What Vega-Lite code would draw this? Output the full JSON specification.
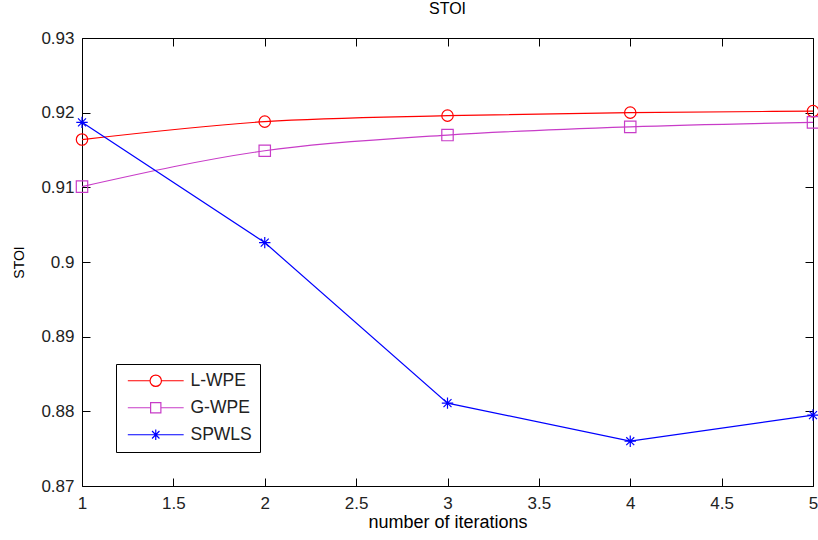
{
  "$schema": "https://vega.github.io/schema/vega-lite/v6.json",
  "width": 731,
  "height": 448,
  "autosize": {"type": "none"},
  "padding": {"left": 82, "top": 38, "right": 5, "bottom": 54},
  "background": "white",
  "title": {"text": "STOI", "font": "Liberation Sans", "fontSize": 16, "fontWeight": "normal", "color": "#000000", "offset": 12, "anchor": "middle"},
  "config": {
    "view": {"stroke": "#000000", "strokeWidth": 1},
    "font": "Liberation Sans",
    "axis": {"grid": false, "domainColor": "#000000", "tickColor": "#000000", "labelColor": "#222222", "titleColor": "#000000", "labelFont": "Liberation Sans", "titleFont": "Liberation Sans", "labelFontSize": 17, "titleFontWeight": "normal", "labelFlush": false}
  },
  "data": {
    "values": [
      {"series": "L-WPE", "iter": 1, "stoi": 0.9164},
      {"series": "L-WPE", "iter": 2, "stoi": 0.9188},
      {"series": "L-WPE", "iter": 3, "stoi": 0.9196},
      {"series": "L-WPE", "iter": 4, "stoi": 0.9200},
      {"series": "L-WPE", "iter": 5, "stoi": 0.9202},
      {"series": "G-WPE", "iter": 1, "stoi": 0.9101},
      {"series": "G-WPE", "iter": 2, "stoi": 0.9149},
      {"series": "G-WPE", "iter": 3, "stoi": 0.9170},
      {"series": "G-WPE", "iter": 4, "stoi": 0.9181},
      {"series": "G-WPE", "iter": 5, "stoi": 0.9187},
      {"series": "SPWLS", "iter": 1, "stoi": 0.9187},
      {"series": "SPWLS", "iter": 2, "stoi": 0.9026},
      {"series": "SPWLS", "iter": 3, "stoi": 0.8811},
      {"series": "SPWLS", "iter": 4, "stoi": 0.8760},
      {"series": "SPWLS", "iter": 5, "stoi": 0.8795}
    ]
  },
  "resolve": {"axis": {"x": "independent", "y": "independent"}, "scale": {"shape": "independent"}},
  "layer": [
    {
      "layer": [
        {
          "transform": [{"filter": "datum.series !== 'SPWLS'"}],
          "mark": {"type": "line", "interpolate": "monotone", "strokeWidth": 1.2}
        },
        {
          "transform": [{"filter": "datum.series === 'SPWLS'"}],
          "mark": {"type": "line", "strokeWidth": 1.2}
        },
        {
          "mark": {"type": "point", "filled": false, "size": 130, "strokeWidth": 1.2, "opacity": 1},
          "encoding": {
            "shape": {"field": "series", "type": "nominal", "legend": null,
              "scale": {"domain": ["L-WPE", "G-WPE", "SPWLS"], "range": ["circle", "square", "M-1,0H1M0,-1V1M-0.7,-0.7L0.7,0.7M-0.7,0.7L0.7,-0.7"]}}
          }
        }
      ],
      "encoding": {
        "x": {"field": "iter", "type": "quantitative", "scale": {"domain": [1, 5], "nice": false},
          "axis": {"title": "number of iterations", "titleFontSize": 18, "values": [1, 1.5, 2, 2.5, 3, 3.5, 4, 4.5, 5], "format": ".1~f", "offset": -8, "tickSize": 8, "domain": false, "labelPadding": 9, "titlePadding": 2}},
        "y": {"field": "stoi", "type": "quantitative", "scale": {"domain": [0.87, 0.93], "nice": false, "zero": false},
          "axis": {"title": "STOI", "titleFontSize": 14, "values": [0.87, 0.88, 0.89, 0.9, 0.91, 0.92, 0.93], "format": ".2~f", "offset": -8, "tickSize": 8, "domain": false, "labelPadding": 8, "titlePadding": 14}},
        "color": {"field": "series", "type": "nominal", "legend": null,
          "scale": {"domain": ["L-WPE", "G-WPE", "SPWLS"], "range": ["#ff0000", "#c83cc8", "#0000ff"]}}
      }
    },
    {
      "transform": [{"filter": "datum.iter > 100"}],
      "mark": {"type": "point", "filled": false, "size": 130, "strokeWidth": 1.2, "opacity": 1},
      "encoding": {
        "x": {"field": "iter", "type": "quantitative", "scale": {"domain": [1, 5], "nice": false}, "axis": null},
        "y": {"field": "stoi", "type": "quantitative", "scale": {"domain": [0.87, 0.93], "nice": false, "zero": false}, "axis": null},
        "color": {"field": "series", "type": "nominal", "legend": null,
          "scale": {"domain": ["L-WPE", "G-WPE", "SPWLS"], "range": ["#ff0000", "#c83cc8", "#0000ff"]}},
        "shape": {"field": "series", "type": "nominal",
          "scale": {"domain": ["L-WPE", "G-WPE", "SPWLS"], "range": [
            "M-4.9,0H-1M1,0H4.9M-1,0A1,1 0 1,0 1,0A1,1 0 1,0 -1,0",
            "M-4.9,0H-0.9M0.9,0H4.9M-0.9,-0.9H0.9V0.9H-0.9Z",
            "M-4.9,0H4.9M0,-0.9V0.9M-0.65,-0.65L0.65,0.65M-0.65,0.65L0.65,-0.65"]},
          "legend": {
            "title": null, "orient": "bottom-left", "offset": 34,
            "strokeColor": "#000000", "fillColor": "#ffffff", "padding": 8,
            "labelFontSize": 17.5, "labelFont": "Liberation Sans", "labelColor": "#222222",
            "symbolSize": 130, "symbolStrokeWidth": 1.2, "labelOffset": 26, "rowPadding": 8,
            "symbolOffset": 23,
            "symbolStrokeColor": {"expr": "datum.value === 'L-WPE' ? '#ff0000' : datum.value === 'G-WPE' ? '#c83cc8' : '#0000ff'"}
          }}
      }
    },
    {
      "mark": {"type": "point", "opacity": 0},
      "encoding": {
        "x": {"field": "iter", "type": "quantitative", "scale": {"domain": [1, 5], "nice": false},
          "axis": {"orient": "top", "title": null, "labels": false, "tickSize": 8, "offset": -8, "domain": false, "values": [1, 1.5, 2, 2.5, 3, 3.5, 4, 4.5, 5]}},
        "y": {"field": "stoi", "type": "quantitative", "scale": {"domain": [0.87, 0.93], "nice": false, "zero": false},
          "axis": {"orient": "right", "title": null, "labels": false, "tickSize": 8, "offset": -8, "domain": false, "values": [0.87, 0.88, 0.89, 0.9, 0.91, 0.92, 0.93]}}
      }
    }
  ]
}
